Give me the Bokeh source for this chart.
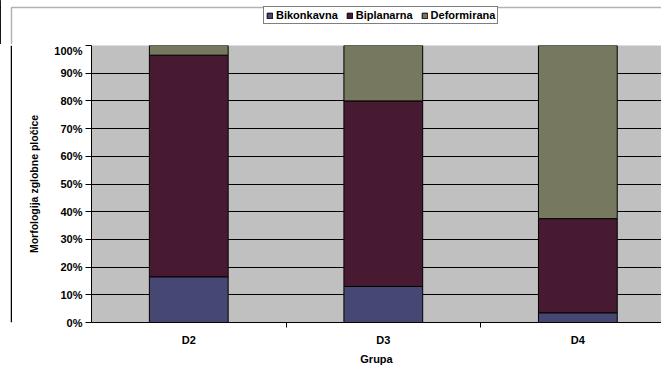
from bokeh.plotting import figure
from bokeh.layouts import column, row
from bokeh.models import (ColumnDataSource, Range1d, FixedTicker, PrintfTickFormatter,
                          Legend, LegendItem, BoxAnnotation, Span)
from bokeh.embed import file_html
from bokeh.resources import INLINE

groups = ["D2", "D3", "D4"]
bikonkavna = [16.5, 13.0, 3.5]
biplanarna = [80.0, 67.0, 34.0]
deformirana = [3.5, 20.0, 62.5]
series = ["Bikonkavna", "Biplanarna", "Deformirana"]
colors = ["#474773", "#481A32", "#777860"]
y_ticks = [0, 10, 20, 30, 40, 50, 60, 70, 80, 90, 100]

xpos = [i + 0.5 for i in range(len(groups))]
source = ColumnDataSource(dict(x=xpos, Bikonkavna=bikonkavna,
                               Biplanarna=biplanarna, Deformirana=deformirana))

FONT = "Liberation Sans"
W, H_TOP, H_MAIN, W_STRIP = 661, 44, 323, 12


def blank(width, height, x0=0):
    f = figure(width=width, height=height, output_backend="svg", toolbar_location=None,
               x_range=Range1d(x0, x0 + width), y_range=Range1d(0, height),
               x_axis_type=None, y_axis_type=None, min_border=0)
    f.grid.visible = False
    f.outline_line_color = None
    f.background_fill_color = "white"
    f.border_fill_color = "white"
    return f


# ---- top strip: legend + outer chart border ----
# x range starts at 100 so that the legend-source bars stay out of view
top = blank(W, H_TOP, x0=100)
top.add_layout(BoxAnnotation(left=100 + 11, right=5000, top=H_TOP - 7, bottom=-100,
                             fill_alpha=0, line_color="black", line_width=1.5))
legend_rs = top.vbar_stack(series, x="x", width=0.405, source=source, color=colors,
                           line_color="black", line_width=1)
legend = Legend(items=[LegendItem(label=s, renderers=[r]) for s, r in zip(series, legend_rs)],
                orientation="horizontal", location=(263, H_TOP - 24),
                border_line_color="black", border_line_width=1,
                background_fill_color="white", background_fill_alpha=1,
                label_text_font=FONT, label_text_font_style="bold",
                label_text_color="black",
                label_text_font_size="11px", glyph_width=7, glyph_height=7,
                label_standoff=3, spacing=8, padding=2, margin=0,
                label_height=12)
top.add_layout(legend)

# ---- left strip: outer chart border ----
strip = blank(W_STRIP, H_MAIN)
strip.add_layout(Span(location=11, dimension="height", line_color="black",
                      line_width=1.5))

# ---- main chart ----
p = figure(width=W - W_STRIP, height=H_MAIN, output_backend="svg", toolbar_location=None,
           x_range=Range1d(0, 2.93), y_range=Range1d(0, 100),
           min_border_left=79, min_border_right=0, min_border_top=1,
           min_border_bottom=44)
p.background_fill_color = "#C0C0C0"
p.border_fill_color = "white"
p.outline_line_color = None

p.vbar_stack(series, x="x", width=0.405, source=source, color=colors,
             line_color="black", line_width=1)

for ax in (p.xaxis, p.yaxis):
    ax.axis_label_text_font = FONT
    ax.axis_label_text_font_style = "bold"
    ax.axis_label_text_color = "black"
    ax.major_label_text_font = FONT
    ax.major_label_text_font_style = "bold"
    ax.major_label_text_color = "black"
    ax.axis_line_color = "black"

p.yaxis.ticker = FixedTicker(ticks=y_ticks)
p.yaxis.formatter = PrintfTickFormatter(format="%d%%")
p.yaxis.major_tick_out = 6
p.yaxis.major_tick_in = 0
p.yaxis.minor_tick_line_color = None
p.yaxis.major_tick_line_color = "black"
p.yaxis.axis_label = "Morfologija zglobne pločice"
p.yaxis.axis_label_text_font_size = "10.5px"
p.yaxis.axis_label_standoff = 11
p.yaxis.major_label_text_font_size = "11px"
p.yaxis.major_label_standoff = 3

p.xaxis.ticker = FixedTicker(ticks=xpos, minor_ticks=[1, 2])
p.xaxis.major_label_overrides = {x: g for x, g in zip(xpos, groups)}
p.xaxis.major_tick_out = 0
p.xaxis.major_tick_in = 0
p.xaxis.minor_tick_out = 5
p.xaxis.minor_tick_in = 0
p.xaxis.minor_tick_line_color = "black"
p.xaxis.axis_label = "Grupa"
p.xaxis.axis_label_text_font_size = "11px"
p.xaxis.axis_label_standoff = 4
p.xaxis.major_label_text_font_size = "11px"
p.xaxis.major_label_standoff = 6

p.xgrid.grid_line_color = None
p.ygrid.ticker = FixedTicker(ticks=y_ticks)
p.ygrid.grid_line_color = "black"
p.ygrid.grid_line_width = 1

layout = column(top, row(strip, p, spacing=0), spacing=0)

open("out.html", "w").write(file_html(layout, INLINE))
